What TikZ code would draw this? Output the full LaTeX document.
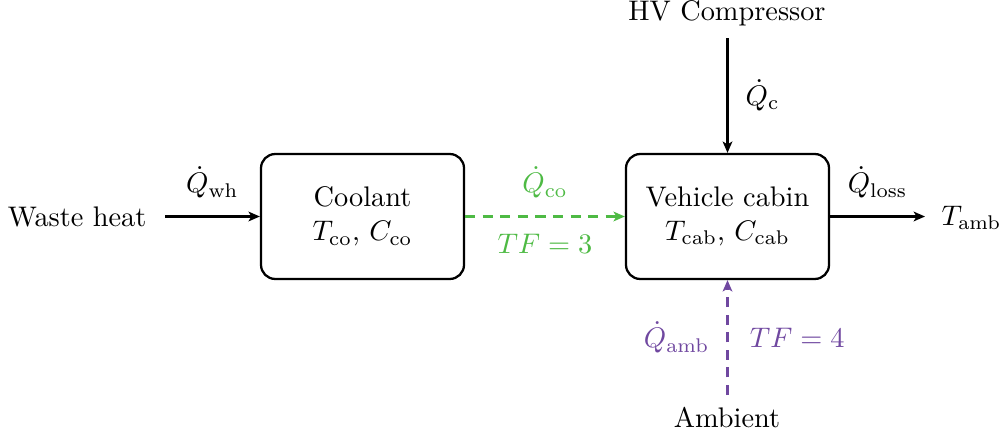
\documentclass[tikz,border=0pt]{standalone}
\usetikzlibrary{arrows.meta}
\definecolor{cgreen}{RGB}{78,186,68}
\definecolor{cpurple}{RGB}{112,72,160}
\begin{document}
\begin{tikzpicture}[x=0.353pt,y=-0.353pt,
  blk/.style={draw,line width=0.8pt,rounded corners=5pt,minimum width=71.66pt,minimum height=44.1pt,align=center,inner sep=0pt},
  flow/.style={line width=0.8pt,-{Stealth[length=4pt,width=3.4pt,inset=1pt]}},
  dflow/.style={flow,dash pattern=on 3.6pt off 2.6pt},
  lbl/.style={inner sep=0pt}]
\useasboundingbox (0,0) rectangle (1003,441);
\node[blk] (co) at (362.5,216.5) {Coolant\\$T_{\mathrm{co}}$, $C_{\mathrm{co}}$};
\node[blk] (cab) at (727.5,216.5) {Vehicle cabin\\$T_{\mathrm{cab}}$, $C_{\mathrm{cab}}$};
\node[lbl,anchor=east] (wh) at (147,217) {Waste heat};
\node[lbl] (hv) at (727,13) {HV Compressor};
\node[lbl,anchor=west] (tamb) at (941,218) {$T_{\mathrm{amb}}$};
\node[lbl] (amb) at (727,418) {Ambient};
\coordinate (whe) at (165,216.5);
\coordinate (hve) at (727.5,38);
\coordinate (tambe) at (925,216.5);
\coordinate (ambe) at (727.5,395);
\draw[flow] (whe) -- node[above=6pt,lbl] (qwh) {$\dot Q_{\mathrm{wh}}$} (co.west);
\draw[flow] (hve) -- node[right=6pt,lbl] (qc) {$\dot Q_{\mathrm{c}}$} (cab.north);
\draw[flow] (cab.east) -- node[above=6pt,lbl] (ql) {$\dot Q_{\mathrm{loss}}$} (tambe);
\draw[dflow,cgreen] (co.east) -- node[above=6pt,lbl] (qco) {$\dot Q_{\mathrm{co}}$} node[below=6pt,lbl] (tf3) {$TF=3$} (cab.west);
\draw[dflow,cpurple] (ambe) -- node[left=6pt,lbl] (qamb) {$\dot Q_{\mathrm{amb}}$} node[right=7.5pt,lbl] (tf4) {$TF=4$} (cab.south);
\end{tikzpicture}
\end{document}
